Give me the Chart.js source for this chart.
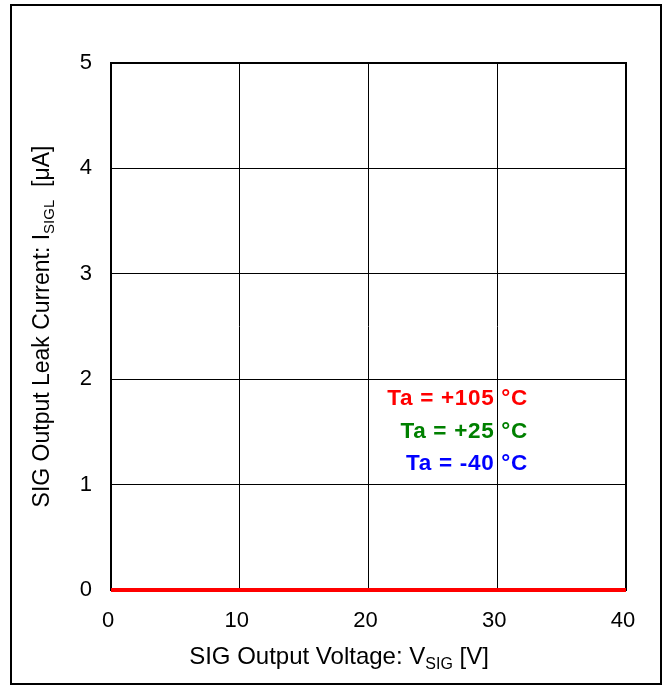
<!DOCTYPE html>
<html><head><meta charset="utf-8">
<script src="https://cdn.jsdelivr.net/npm/chart.js@4/dist/chart.umd.min.js"></script>
<style>html,body{margin:0;padding:0;background:#fff}#wrap{width:670px;height:687px}</style>
</head><body><div id="wrap"><canvas id="c" width="670" height="687"></canvas></div>
<script>
const voltage = [0, 5, 10, 15, 20, 25, 30, 35, 40];
const leak105 = [0, 0, 0, 0, 0, 0, 0, 0, 0];
const leak25 = [0, 0, 0, 0, 0, 0, 0, 0, 0];
const leakM40 = [0, 0, 0, 0, 0, 0, 0, 0, 0];
const xTicks = [0, 10, 20, 30, 40];
const yTicks = [0, 1, 2, 3, 4, 5];
const legendLabels = ['Ta = +105 °C', 'Ta = +25 °C', 'Ta = -40 °C'];
const seriesColors = ['#ff0000', '#008000', '#0000ff'];

const FONT = '"Liberation Sans", Arial, sans-serif';

function drawSub(ctx, parts, x, y, size) {
  let w = 0;
  for (const [t, sub] of parts) { ctx.font = (sub ? Math.round(size*0.65) : size) + 'px ' + FONT; w += ctx.measureText(t).width; }
  let cx = x - w/2;
  for (const [t, sub] of parts) {
    ctx.font = (sub ? Math.round(size*0.65) : size) + 'px ' + FONT;
    ctx.fillText(t, cx, y + (sub ? size*0.3 : 0));
    cx += ctx.measureText(t).width;
  }
}

const decor = {
  id: 'decor',
  beforeDraw(chart) {
    const ctx = chart.ctx;
    ctx.save();
    ctx.fillStyle = '#fff';
    ctx.fillRect(0, 0, chart.width, chart.height);
    ctx.restore();
  },
  beforeDatasetsDraw(chart) {
    const ctx = chart.ctx, a = chart.chartArea;
    ctx.save();
    ctx.strokeStyle = '#000';
    ctx.lineWidth = 2;
    ctx.strokeRect(a.left, a.top, a.right - a.left, a.bottom - a.top);
    ctx.restore();
  },
  afterDraw(chart) {
    const ctx = chart.ctx, a = chart.chartArea;
    ctx.save();
    ctx.strokeStyle = '#000';
    ctx.lineWidth = 2;
    ctx.strokeRect(11, 5, 650, 679);
    ctx.font = 'bold 22.5px ' + FONT;
    try { ctx.letterSpacing = '0.7px'; } catch (e) {}
    ctx.textAlign = 'right';
    ctx.textBaseline = 'middle';
    const lx = 528;
    const ly = [399, 432, 464];
    legendLabels.forEach((t, i) => { ctx.fillStyle = seriesColors[i]; ctx.fillText(t, lx, ly[i]); });
    try { ctx.letterSpacing = '0px'; } catch (e) {}
    ctx.fillStyle = '#000';
    ctx.textAlign = 'left';
    ctx.textBaseline = 'middle';
    drawSub(ctx, [['SIG Output Voltage: V', false], ['SIG', true], [' [V]', false]], 339, 657, 24);
    ctx.translate(43, (a.top + a.bottom) / 2);
    ctx.rotate(-Math.PI / 2);
    drawSub(ctx, [['SIG Output Leak Current: I', false], ['SIGL', true], ['  [μA]', false]], 0, 0, 23);
    ctx.restore();
  }
};

new Chart(document.getElementById('c'), {
  type: 'line',
  data: {
    datasets: [
      { label: 'Ta = -40 °C', data: voltage.map((v, i) => ({x: v, y: leakM40[i]})), borderColor: seriesColors[2], borderWidth: 4, pointRadius: 0, clip: 6, order: 3 },
      { label: 'Ta = +25 °C', data: voltage.map((v, i) => ({x: v, y: leak25[i]})), borderColor: seriesColors[1], borderWidth: 4, pointRadius: 0, clip: 6, order: 2 },
      { label: 'Ta = +105 °C', data: voltage.map((v, i) => ({x: v, y: leak105[i]})), borderColor: seriesColors[0], borderWidth: 4, pointRadius: 0, clip: 6, order: 1 }
    ]
  },
  options: {
    responsive: false,
    animation: false,
    devicePixelRatio: 1,
    layout: { padding: { top: 63, right: 44, left: 0, bottom: 0 } },
    plugins: { legend: { display: false }, tooltip: { enabled: false } },
    scales: {
      x: {
        type: 'linear', min: 0, max: 40,
        afterBuildTicks(s) { s.ticks = xTicks.map(v => ({value: v})); },
        afterFit(s) { s.height = 687 - 63 - 527; },
        grid: { color: '#000', lineWidth: 1, drawTicks: false },
        border: { display: false },
        ticks: { color: '#000', font: { family: FONT, size: 22 }, padding: 18, maxRotation: 0, labelOffset: -3 }
      },
      y: {
        type: 'linear', min: 0, max: 5,
        afterBuildTicks(s) { s.ticks = yTicks.map(v => ({value: v})); },
        afterFit(s) { s.width = 111; },
        grid: { color: '#000', lineWidth: 1, drawTicks: false },
        border: { display: false },
        ticks: { color: '#000', font: { family: FONT, size: 22 }, padding: 19 }
      }
    }
  },
  plugins: [decor]
});
</script>
</body></html>
